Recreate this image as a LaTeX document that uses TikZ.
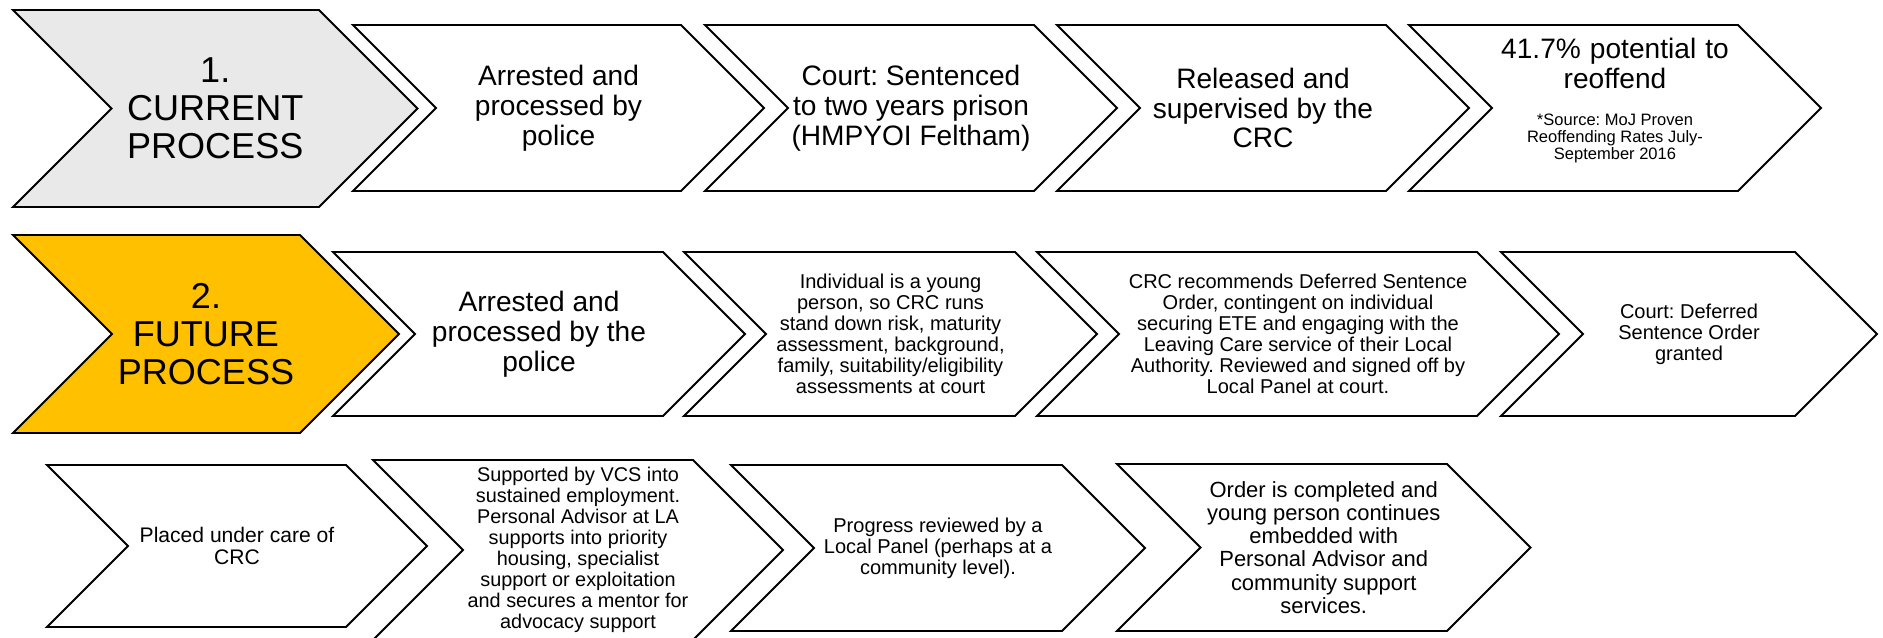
\documentclass[tikz,border=0pt]{standalone}
\usepackage{fontspec}
\setmainfont{Liberation Sans}
\usepackage{xcolor}
\usepackage{tikz}
\frenchspacing

\definecolor{curgrey}{RGB}{233,233,233}
\definecolor{futgold}{RGB}{255,192,0}

\tikzset{
  chevron/.style={draw=black, line width=1.1pt, line join=miter},
  stage/.style={align=center, inner sep=0pt, text=black},
  headtext/.style={font=\fontsize{20.5}{21.5}\selectfont},
  midtext/.style={font=\fontsize{16}{17}\selectfont},
  smalltext/.style={font=\fontsize{11.4}{11.9}\selectfont},
  caretext/.style={font=\fontsize{12}{12.7}\selectfont},
  supporttext/.style={font=\fontsize{11.3}{11.9}\selectfont},
  endtext/.style={font=\fontsize{12.5}{13.2}\selectfont},
  sourcebox/.style={font=\fontsize{16}{17}\selectfont, text width=150pt, yshift=3.8pt},
}

\newcommand{\chevstage}[8]{%
  \draw[chevron, fill=#6] (#2,#3) -- ++(#4,0) -- ++(#5/2,#5/2) -- ++(-#5/2,#5/2)
    -- ++(-#4,0) -- ++(#5/2,-#5/2) -- cycle;
  \node[stage, #7] (#1) at ({#2+#4/2+#5/4},{#3+#5/2}) {#8};
}

\begin{document}
\begin{tikzpicture}[x=0.02cm, y=-0.02cm]
  \useasboundingbox (0,0) rectangle (1883,637);

  \chevstage{cur}{13}{10}{306}{197}{curgrey}{headtext}{1.\\CURRENT\\PROCESS}
  \chevstage{arrest}{353}{25}{328}{166}{white}{midtext}{Arrested and\\processed by\\police}
  \chevstage{prison}{705}{25}{329}{166}{white}{midtext}{Court: Sentenced\\to two years prison\\(HMPYOI Feltham)}
  \chevstage{release}{1057}{25}{329}{166}{white}{midtext}{Released and\\supervised by the\\CRC}
  \chevstage{reoffend}{1409}{25}{329}{166}{white}{sourcebox}{\spaceskip=0pt\xspaceskip=0pt 41.7\% potential to\\reoffend\par\vspace{11.5pt}{\fontsize{9.4}{9.6}\selectfont\spaceskip=0pt\xspaceskip=0pt\begin{tabular}[t]{@{}c@{}}*Source: MoJ Proven\\Reoffending Rates July-\\September 2016\end{tabular}\par}}

  \chevstage{fut}{13}{235}{287}{198}{futgold}{headtext}{2.\\FUTURE\\PROCESS}
  \chevstage{arrest2}{333}{252}{330}{164}{white}{midtext}{Arrested and\\processed by the\\police}
  \chevstage{assess}{684}{252}{331}{164}{white}{smalltext}{Individual is a young\\person, so CRC runs\\stand down risk, maturity\\assessment, background,\\family, suitability/eligibility\\assessments at court}
  \chevstage{recommend}{1037}{252}{440}{164}{white}{smalltext}{CRC recommends Deferred Sentence\\Order, contingent on individual\\securing ETE and engaging with the\\Leaving Care service of their Local\\Authority. Reviewed and signed off by\\Local Panel at court.}
  \chevstage{granted}{1501}{252}{294}{164}{white}{smalltext}{Court: Deferred\\Sentence Order\\granted}

  \chevstage{care}{47}{465}{299}{162}{white}{caretext}{Placed under care of\\CRC}
  \chevstage{support}{373}{460}{320}{180}{white}{supporttext}{Supported by VCS into\\sustained employment.\\Personal Advisor at LA\\supports into priority\\housing, specialist\\support or exploitation\\and secures a mentor for\\advocacy support}
  \chevstage{review}{731}{465}{331}{166}{white}{smalltext}{Progress reviewed by a\\Local Panel (perhaps at a\\community level).}
  \chevstage{complete}{1117}{464}{330}{167}{white}{endtext}{Order is completed and\\young person continues\\embedded with\\Personal Advisor and\\community support\\services.}
\end{tikzpicture}
\end{document}
